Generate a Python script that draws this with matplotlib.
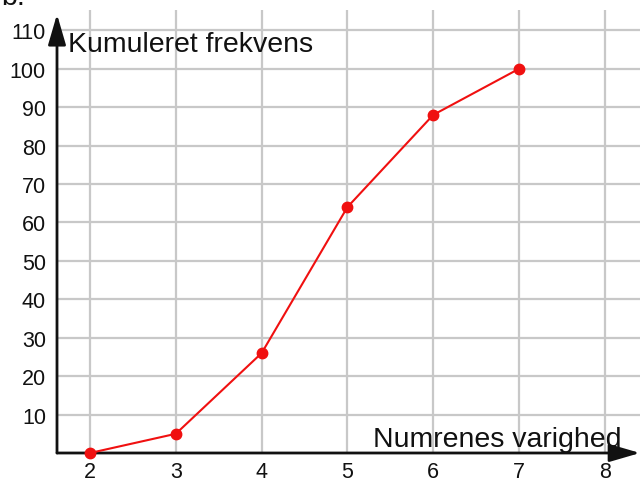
import matplotlib.pyplot as plt

# data
varighed = [2, 3, 4, 5, 6, 7]
kum_frekvens = [0, 5, 26, 64, 88, 100]
x_ticks = [2, 3, 4, 5, 6, 7, 8]
y_ticks = [10, 20, 30, 40, 50, 60, 70, 80, 90, 100, 110]

plt.rcParams['font.family'] = ['Liberation Sans', 'DejaVu Sans']

fig = plt.figure(figsize=(6.4, 4.85), dpi=100)
ax = fig.add_axes([57 / 640, 1 - 454 / 485, 1 - 57 / 640, (454 - 11) / 485])

xmin, xmax = 1.615, 8.41
ymin, ymax = 0, 115.3
ax.set_xlim(xmin, xmax)
ax.set_ylim(ymin, ymax)

for s in ax.spines.values():
    s.set_visible(False)

# grid
for xv in x_ticks:
    ax.axvline(xv, color='#c8c8c8', lw=1.6, zorder=0)
for yv in y_ticks:
    ax.axhline(yv, color='#c8c8c8', lw=1.6, zorder=0)

# axes with arrows
arrow = dict(arrowstyle='-|>,head_length=0.55,head_width=0.16', color='#111111',
             lw=2.0, mutation_scale=34, shrinkA=0, shrinkB=0)
ax.annotate('', xy=(xmax, 0), xytext=(xmin, 0), arrowprops=arrow,
            annotation_clip=False, zorder=3)
ax.annotate('', xy=(xmin, 114.2), xytext=(xmin, 0), arrowprops=arrow,
            annotation_clip=False, zorder=3)

ax.plot(varighed, kum_frekvens, color='#f01010', lw=1.5, marker='o',
        markersize=7.5, zorder=4, clip_on=False)

ax.set_xticks(x_ticks)
ax.set_yticks(y_ticks)
ax.tick_params(axis='both', length=0, labelsize=15.5, colors='#111111')
ax.tick_params(axis='x', pad=6)
ax.tick_params(axis='y', pad=8)

ax.text(1.744, 104.6, 'Kumuleret frekvens', fontsize=20.5, va='baseline',
        ha='left', color='#111111', zorder=5)
ax.text(5.30, 1.8, 'Numrenes varighed', fontsize=20.5, va='baseline',
        ha='left', color='#111111', zorder=5)

fig.text(0.002, 1 - 5 / 485, 'b.', fontsize=20.5, va='baseline', ha='left',
         color='#111111')

fig.savefig('out.png', dpi=100)
